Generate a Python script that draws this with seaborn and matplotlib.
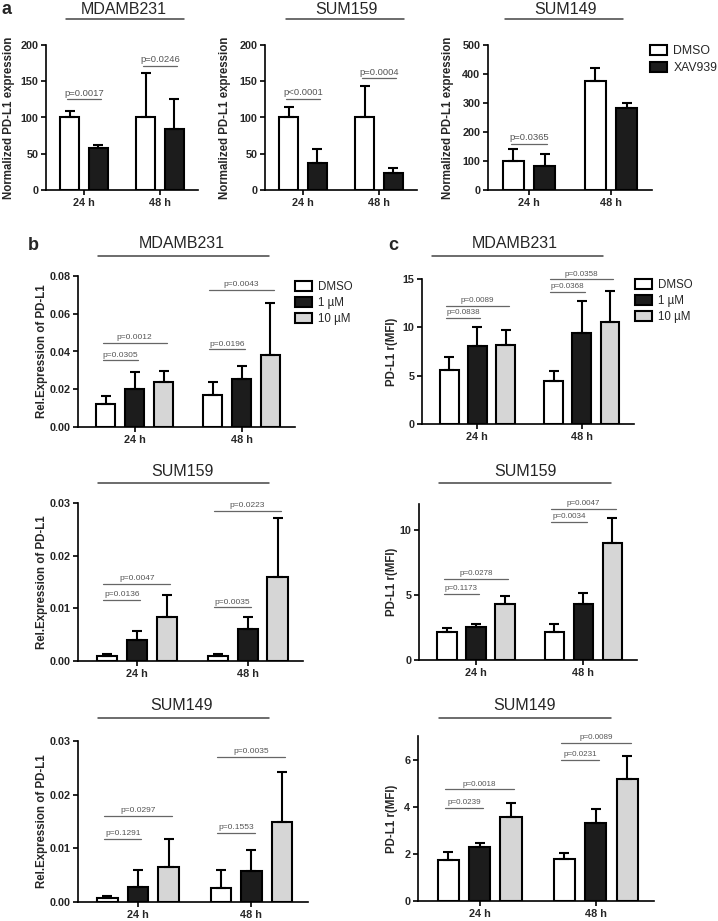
import matplotlib
matplotlib.use('Agg')
import pandas as pd
import matplotlib.pyplot as plt
import seaborn as sns
from matplotlib.lines import Line2D
from matplotlib.patches import Patch

W, H = 718, 921

times = ['24 h', '48 h']
groups_a = ['DMSO', 'XAV939']
groups_bc = ['DMSO', '1 µM', '10 µM']
colors_a = ['white', '#1c1c1c']
colors_bc = ['white', '#1c1c1c', '#d6d6d6']

# a: normalized PD-L1 expression, mean and sd at 24 h / 48 h
a_mda_mean = {'DMSO': [100, 100], 'XAV939': [58, 84]}
a_mda_sd = {'DMSO': [9, 61], 'XAV939': [4, 42]}
a_159_mean = {'DMSO': [100, 100], 'XAV939': [37, 23]}
a_159_sd = {'DMSO': [14, 43], 'XAV939': [19, 7]}
a_149_mean = {'DMSO': [100, 377], 'XAV939': [82, 282]}
a_149_sd = {'DMSO': [40, 43], 'XAV939': [43, 18]}

# b: Rel.Expression of PD-L1
b_mda_mean = {'DMSO': [0.0124, 0.0168], '1 µM': [0.0200, 0.0253], '10 µM': [0.0239, 0.0384]}
b_mda_sd = {'DMSO': [0.0039, 0.0071], '1 µM': [0.0092, 0.0069], '10 µM': [0.0057, 0.0271]}
b_159_mean = {'DMSO': [0.0010, 0.0009], '1 µM': [0.0039, 0.0060], '10 µM': [0.0084, 0.0159]}
b_159_sd = {'DMSO': [0.0003, 0.0004], '1 µM': [0.0018, 0.0024], '10 µM': [0.0041, 0.0112]}
b_149_mean = {'DMSO': [0.0008, 0.0026], '1 µM': [0.0028, 0.0057], '10 µM': [0.0065, 0.0150]}
b_149_sd = {'DMSO': [0.0004, 0.0033], '1 µM': [0.0031, 0.0039], '10 µM': [0.0052, 0.0093]}

# c: PD-L1 r(MFI)
c_mda_mean = {'DMSO': [5.6, 4.4], '1 µM': [8.1, 9.4], '10 µM': [8.2, 10.5]}
c_mda_sd = {'DMSO': [1.3, 1.1], '1 µM': [1.9, 3.3], '10 µM': [1.55, 3.3]}
c_159_mean = {'DMSO': [2.16, 2.16], '1 µM': [2.52, 4.32], '10 µM': [4.32, 9.02]}
c_159_sd = {'DMSO': [0.28, 0.59], '1 µM': [0.23, 0.82], '10 µM': [0.62, 1.93]}
c_149_mean = {'DMSO': [1.73, 1.80], '1 µM': [2.30, 3.29], '10 µM': [3.55, 5.16]}
c_149_sd = {'DMSO': [0.33, 0.24], '1 µM': [0.17, 0.61], '10 µM': [0.59, 1.01]}

# p-value brackets: (time index, group i, group j, height, label)
a_mda_p = [(0, 0, 1, 125, 'p=0.0017'), (1, 0, 1, 171, 'p=0.0246')]
a_159_p = [(0, 0, 1, 126, 'p<0.0001'), (1, 0, 1, 154, 'p=0.0004')]
a_149_p = [(0, 0, 1, 159, 'p=0.0365')]
b_mda_p = [(0, 0, 1, 0.0354, 'p=0.0305'), (0, 0, 2, 0.0446, 'p=0.0012'),
           (1, 0, 1, 0.0412, 'p=0.0196'), (1, 0, 2, 0.0726, 'p=0.0043')]
b_159_p = [(0, 0, 1, 0.0116, 'p=0.0136'), (0, 0, 2, 0.0146, 'p=0.0047'),
           (1, 0, 1, 0.0102, 'p=0.0035'), (1, 0, 2, 0.0285, 'p=0.0223')]
b_149_p = [(0, 0, 1, 0.0118, 'p=0.1291'), (0, 0, 2, 0.0161, 'p=0.0297'),
           (1, 0, 1, 0.0129, 'p=0.1553'), (1, 0, 2, 0.0271, 'p=0.0035')]
c_mda_p = [(0, 0, 1, 11.0, 'p=0.0838'), (0, 0, 2, 12.25, 'p=0.0089'),
           (1, 0, 1, 13.7, 'p=0.0368'), (1, 0, 2, 14.95, 'p=0.0358')]
c_159_p = [(0, 0, 1, 5.09, 'p=0.1173'), (0, 0, 2, 6.22, 'p=0.0278'),
           (1, 0, 1, 10.64, 'p=0.0034'), (1, 0, 2, 11.65, 'p=0.0047')]
c_149_p = [(0, 0, 1, 3.96, 'p=0.0239'), (0, 0, 2, 4.74, 'p=0.0018'),
           (1, 0, 1, 5.99, 'p=0.0231'), (1, 0, 2, 6.7, 'p=0.0089')]

sns.set_style('ticks')
plt.rcParams['font.family'] = ['Liberation Sans', 'DejaVu Sans']

fig = plt.figure(figsize=(W / 100, H / 100), dpi=100)


def fbox(l, t, r, b):
    return [l / W, 1 - b / H, (r - l) / W, (b - t) / H]


def fx(x):
    return x / W


def fy(y):
    return 1 - y / H


ylab_a = 'Normalized PD-L1 expression'
ylab_b = 'Rel.Expression of PD-L1'
ylab_c = 'PD-L1 r(MFI)'

panels = [
    dict(box=(46, 45, 198, 190), title='MDAMB231', mean=a_mda_mean, sd=a_mda_sd, groups=groups_a,
         colors=colors_a, ylim=200, yticks=[0, 50, 100, 150, 200], fmt='%d', ylabel=ylab_a,
         comps=a_mda_p, txy=(124, 9), line=(66, 184, 19), ylx=9, pfs=6.8, xlim=(-0.5, 1.5)),
    dict(box=(265, 45, 417, 190), title='SUM159', mean=a_159_mean, sd=a_159_sd, groups=groups_a,
         colors=colors_a, ylim=200, yticks=[0, 50, 100, 150, 200], fmt='%d', ylabel=ylab_a,
         comps=a_159_p, txy=(346, 9), line=(286, 404, 19), ylx=225, pfs=6.8, xlim=(-0.5, 1.5)),
    dict(box=(488, 45, 652, 190), title='SUM149', mean=a_149_mean, sd=a_149_sd, groups=groups_a,
         colors=colors_a, ylim=500, yticks=[0, 100, 200, 300, 400, 500], fmt='%d', ylabel=ylab_a,
         comps=a_149_p, txy=(566, 9), line=(505, 623, 19), ylx=448, pfs=6.8, xlim=(-0.5, 1.5)),
    dict(box=(78, 276, 295, 427), title='MDAMB231', mean=b_mda_mean, sd=b_mda_sd, groups=groups_bc,
         colors=colors_bc, ylim=0.08, yticks=[0, 0.02, 0.04, 0.06, 0.08], fmt='%.2f', ylabel=ylab_b,
         comps=b_mda_p, txy=(182, 243), line=(98, 269, 256), ylx=42, pfs=6.0, xlim=(-0.53, 1.5)),
    dict(box=(78, 503, 303, 661), title='SUM159', mean=b_159_mean, sd=b_159_sd, groups=groups_bc,
         colors=colors_bc, ylim=0.03, yticks=[0, 0.01, 0.02, 0.03], fmt='%.2f', ylabel=ylab_b,
         comps=b_159_p, txy=(182, 471), line=(98, 269, 483), ylx=42, pfs=6.0, xlim=(-0.53, 1.5)),
    dict(box=(78, 741, 308, 902), title='SUM149', mean=b_149_mean, sd=b_149_sd, groups=groups_bc,
         colors=colors_bc, ylim=0.03, yticks=[0, 0.01, 0.02, 0.03], fmt='%.2f', ylabel=ylab_b,
         comps=b_149_p, txy=(182, 705), line=(98, 269, 718), ylx=42, pfs=6.0, xlim=(-0.53, 1.5)),
    dict(box=(422, 279, 634, 424), title='MDAMB231', mean=c_mda_mean, sd=c_mda_sd, groups=groups_bc,
         colors=colors_bc, ylim=15, yticks=[0, 5, 10, 15], fmt='%d', ylabel=ylab_c,
         comps=c_mda_p, txy=(515, 243), line=(432, 603, 256), ylx=392, pfs=5.8, xlim=(-0.53, 1.5)),
    dict(box=(419, 504, 637, 660), title='SUM159', mean=c_159_mean, sd=c_159_sd, groups=groups_bc,
         colors=colors_bc, ylim=12, yticks=[0, 5, 10], fmt='%d', ylabel=ylab_c,
         comps=c_159_p, txy=(525, 471), line=(439, 611, 483), ylx=392, pfs=5.8, xlim=(-0.53, 1.5)),
    dict(box=(418, 736, 654, 901), title='SUM149', mean=c_149_mean, sd=c_149_sd, groups=groups_bc,
         colors=colors_bc, ylim=7, yticks=[0, 2, 4, 6], fmt='%d', ylabel=ylab_c,
         comps=c_149_p, txy=(525, 705), line=(439, 611, 718), ylx=392, pfs=5.8, xlim=(-0.53, 1.5)),
]

for p in panels:
    ax = fig.add_axes(fbox(*p['box']))
    rows = []
    for g in p['groups']:
        for t, m in zip(times, p['mean'][g]):
            rows.append({'time': t, 'group': g, 'value': m})
    df = pd.DataFrame(rows)
    ng = len(p['groups'])
    sns.barplot(data=df, x='time', y='value', hue='group', order=times, hue_order=p['groups'],
                palette=p['colors'], edgecolor='black', linewidth=1.5,
                width=0.76 if ng == 2 else 0.81, gap=0.34 if ng == 2 else 0.33,
                errorbar=None, legend=False, ax=ax)
    bars = sorted(ax.patches, key=lambda b: b.get_x())
    for ti in range(len(times)):
        for gi, g in enumerate(p['groups']):
            bar = bars[ti * ng + gi]
            cx = bar.get_x() + bar.get_width() / 2
            ax.errorbar(cx, bar.get_height(), yerr=[[0], [p['sd'][g][ti]]], fmt='none',
                        ecolor='black', elinewidth=1.5, capsize=3.5, capthick=1.5, zorder=3)
    for ti, gi, gj, y, label in p['comps']:
        b0 = bars[ti * ng + gi]
        b1 = bars[ti * ng + gj]
        x0 = b0.get_x() + b0.get_width() / 2 - 0.03
        x1 = b1.get_x() + b1.get_width() / 2 + 0.03
        ax.plot([x0, x1], [y, y], color='#666666', lw=0.9, clip_on=False)
        ax.annotate(label, ((x0 + x1) / 2, y), xytext=(0, 1.2), textcoords='offset points',
                    ha='center', va='bottom', fontsize=p['pfs'], color='#555555')
    ax.set_xlim(*p['xlim'])
    ax.set_ylim(0, p['ylim'])
    ax.set_yticks(p['yticks'], [p['fmt'] % v for v in p['yticks']], fontsize=7.8, fontweight='bold')
    ax.set_xticks(ax.get_xticks(), times, fontsize=7.8, fontweight='bold')
    ax.set_xlabel('')
    ax.set_ylabel('')
    sns.despine(ax=ax)
    for s in ['left', 'bottom']:
        ax.spines[s].set_linewidth(1.2)
        ax.spines[s].set_color('black')
    ax.tick_params(width=1.2, length=3.5, pad=2, color='black')

    l, t, r, b = p['box']
    fig.text(fx(p['ylx']), fy((t + b) / 2), p['ylabel'], rotation=90, ha='center', va='center',
             fontsize=8.3, fontweight='bold')
    fig.text(fx(p['txy'][0]), fy(p['txy'][1]), p['title'], ha='center', va='center', fontsize=11.5)
    lx0, lx1, ly = p['line']
    fig.add_artist(Line2D([fx(lx0), fx(lx1)], [fy(ly), fy(ly)], transform=fig.transFigure,
                          color='#444444', lw=1.1))

    if p is panels[2]:
        handles = [Patch(facecolor=c, edgecolor='black', linewidth=1.5, label=g)
                   for g, c in zip(groups_a, colors_a)]
        fig.legend(handles=handles, loc='upper left', bbox_to_anchor=(fx(650), fy(45)),
                   frameon=False, fontsize=8.8, handlelength=1.4, handleheight=0.85,
                   labelspacing=0.4, handletextpad=0.5, borderpad=0, borderaxespad=0)
    if p is panels[3] or p is panels[6]:
        handles = [Patch(facecolor=c, edgecolor='black', linewidth=1.5, label=g)
                   for g, c in zip(groups_bc, colors_bc)]
        lx, ly0 = (295, 281) if p is panels[3] else (635, 279)
        fig.legend(handles=handles, loc='upper left', bbox_to_anchor=(fx(lx), fy(ly0)),
                   frameon=False, fontsize=8.3, handlelength=1.5, handleheight=0.9,
                   labelspacing=0.35, handletextpad=0.5, borderpad=0, borderaxespad=0)

fig.text(fx(7), fy(9), 'a', ha='center', va='center', fontsize=13, fontweight='bold')
fig.text(fx(33), fy(245), 'b', ha='center', va='center', fontsize=13, fontweight='bold')
fig.text(fx(393), fy(245), 'c', ha='center', va='center', fontsize=13, fontweight='bold')

fig.savefig('out.png', dpi=100)
